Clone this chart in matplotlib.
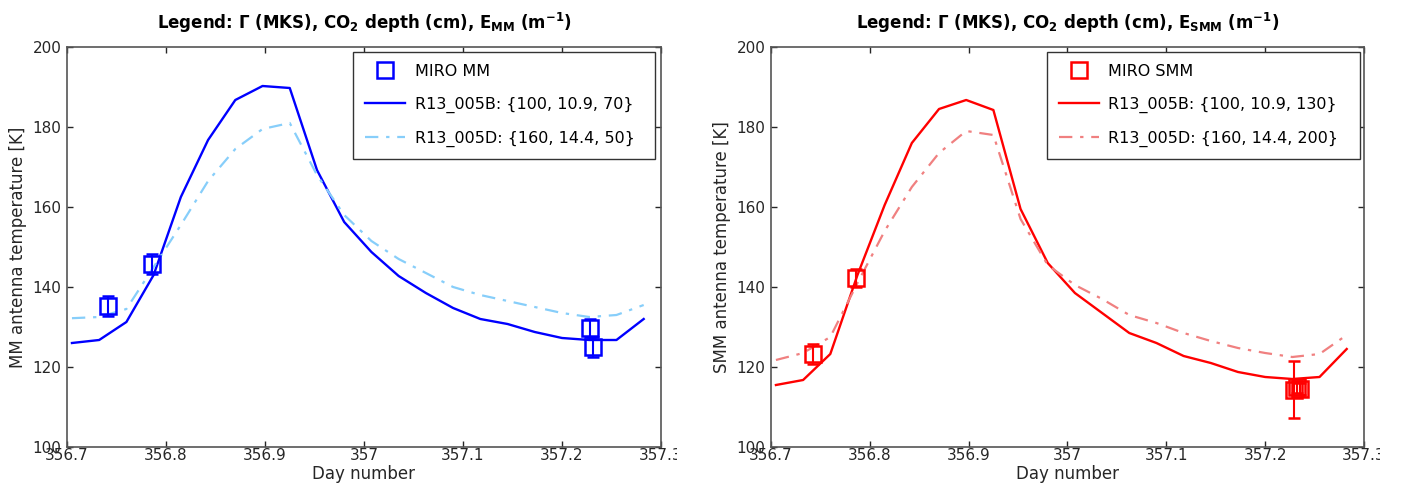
import matplotlib
matplotlib.use("Agg")
import matplotlib.pyplot as plt
from matplotlib.lines import Line2D
from matplotlib.patches import Rectangle

plt.rcParams["font.family"] = ["DejaVu Sans"]
plt.rcParams["mathtext.fontset"] = "custom"
plt.rcParams["mathtext.rm"] = "DejaVu Sans:bold"
plt.rcParams["mathtext.it"] = "DejaVu Sans:bold"
plt.rcParams["mathtext.bf"] = "DejaVu Sans:bold"
plt.rcParams["mathtext.default"] = "rm"

# model day grid
days = [356.705, 356.7325, 356.76, 356.7875, 356.815, 356.8425, 356.87, 356.8975,
        356.925, 356.9525, 356.98, 357.0075, 357.035, 357.0625, 357.09, 357.1175,
        357.145, 357.1725, 357.20, 357.2275, 357.255, 357.2825]

# MM channel
mm_b = [126.0, 126.75, 131.25, 143.0, 162.5, 176.75, 186.75, 190.25,
        189.75, 169.25, 156.25, 148.75, 142.75, 138.5, 134.75, 132.0,
        130.75, 128.75, 127.25, 126.75, 126.75, 132.0]
mm_d = [132.2, 132.5, 134.5, 145.0, 155.5, 166.5, 174.5, 179.5,
        181.0, 168.0, 158.0, 151.5, 147.0, 143.5, 140.0, 138.0,
        136.5, 135.0, 133.5, 132.5, 133.0, 135.5]
mm_obs_day = [356.741, 356.786, 357.228, 357.231]
mm_obs = [135.25, 145.75, 129.75, 125.0]
mm_err = [2.6, 2.5, 2.2, 2.5]

# SMM channel
smm_b = [115.5, 116.75, 123.25, 143.0, 160.5, 176.0, 184.5, 186.75,
         184.25, 159.5, 146.0, 138.5, 133.5, 128.5, 126.0, 122.75,
         121.0, 118.75, 117.5, 117.0, 117.5, 124.5]
smm_d = [121.75, 123.5, 127.5, 141.0, 154.0, 165.0, 173.5, 179.0,
         178.0, 157.0, 145.5, 140.5, 137.0, 133.0, 131.0, 128.5,
         126.5, 124.75, 123.5, 122.5, 123.25, 128.0]
smm_obs_day = [356.742, 356.786, 357.229, 357.232, 357.235]
smm_obs = [123.25, 142.25, 114.3, 114.9, 114.6]
smm_err = [2.5, 2.25, 7.1, 1.5, 1.5]

xticks = [356.7, 356.8, 356.9, 357.0, 357.1, 357.2, 357.3]
xticklabels = ["356.7", "356.8", "356.9", "357", "357.1", "357.2", "357.3"]
yticks = [100, 120, 140, 160, 180, 200]

FRAME = "#555555"
TXT = "#262626"
W, H = 1402, 490


def draw_panel(ax, chan, obs_day, obs, err, model_b, model_d, color, light, labels, leg_box):
    ax.plot(days, model_b, color=color, lw=1.7, label=labels[1])
    ax.plot(days, model_d, color=light, lw=1.6, ls=(0, (6, 3.5, 1.5, 3.5)), label=labels[2])
    ax.errorbar(obs_day, obs, yerr=err, fmt="s", ms=11, mfc="none", mec=color,
                mew=1.8, ecolor=color, elinewidth=1.5, capsize=4, capthick=1.5)

    ax.set_xlim(356.7, 357.3)
    ax.set_ylim(100, 200)
    ax.set_xticks(xticks)
    ax.set_xticklabels(xticklabels)
    ax.set_yticks(yticks)
    ax.tick_params(direction="in", length=4, width=1, top=True, right=True,
                   labelsize=11, colors=TXT, pad=1)
    ax.tick_params(axis="y", pad=4)
    for sp in ax.spines.values():
        sp.set_color(FRAME)
        sp.set_linewidth(1.2)

    ax.set_xlabel("Day number", fontsize=12, color=TXT, labelpad=1)
    ax.set_ylabel(f"{chan} antenna temperature [K]", fontsize=12, color=TXT, labelpad=4)
    ax.set_title(r"Legend: Γ (MKS), CO$_2$ depth (cm), E$_{%s}$ (m$^{-1}$)" % chan,
                 fontsize=12, fontweight="bold", pad=13)

    obs_handle = Line2D([], [], marker="s", ls="none", ms=11, mfc="none", mec=color, mew=1.8)
    handles, hl = ax.get_legend_handles_labels()
    leg = ax.legend([obs_handle] + handles, [labels[0]] + hl, loc="upper right",
                    bbox_to_anchor=leg_box, mode="expand",
                    fontsize=11.5, frameon=True, fancybox=False, framealpha=1,
                    edgecolor="#333333", handlelength=2.5, handletextpad=0.6,
                    labelspacing=1.1, borderpad=0.75, borderaxespad=0)
    leg.get_frame().set_linewidth(1.0)


fig = plt.figure(figsize=(W / 100, H / 100), dpi=100)
ax1 = fig.add_axes([67 / W, 43 / H, 594 / W, 400 / H])
ax2 = fig.add_axes([771 / W, 43 / H, 593 / W, 400 / H])

draw_panel(ax1, "MM", mm_obs_day, mm_obs, mm_err, mm_b, mm_d, "#0000ff", "#87cefa",
           ["MIRO MM", "R13_005B: {100, 10.9, 70}", "R13_005D: {160, 14.4, 50}"],
           (0.4815, 0.0, 0.5084, 0.9875))
draw_panel(ax2, "SMM", smm_obs_day, smm_obs, smm_err, smm_b, smm_d, "#ff0000", "#f08080",
           ["MIRO SMM", "R13_005B: {100, 10.9, 130}", "R13_005D: {160, 14.4, 200}"],
           (0.4654, 0.0, 0.5279, 0.9875))

# the original cuts off the last x tick label just past the frame
for x0, x1 in ((677, 700), (1380, W)):
    fig.add_artist(Rectangle((x0 / W, 20 / H), (x1 - x0) / W, 22 / H,
                             transform=fig.transFigure, facecolor="white",
                             edgecolor="none", zorder=10))

fig.savefig("out.png", dpi=100)
